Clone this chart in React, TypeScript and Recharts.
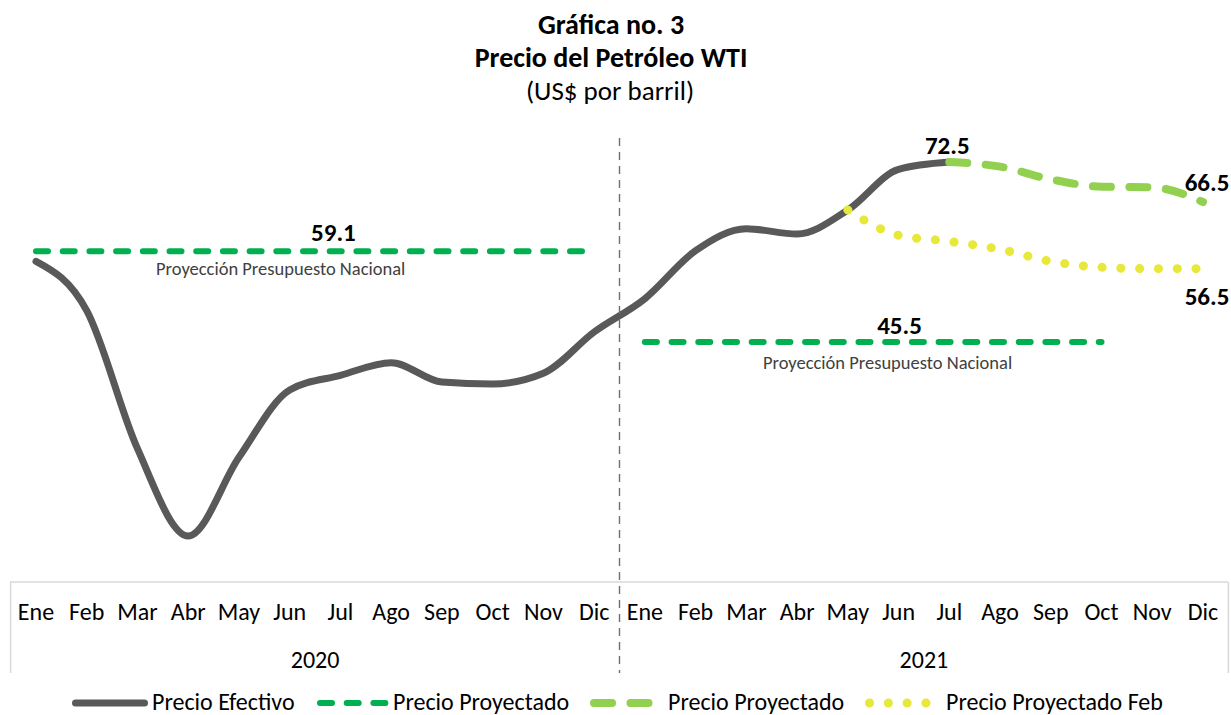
import React from 'react';
import { LineChart, Line, XAxis, YAxis, LabelList, Legend } from 'recharts';

const months = ['Ene', 'Feb', 'Mar', 'Abr', 'May', 'Jun', 'Jul', 'Ago', 'Sep', 'Oct', 'Nov', 'Dic'];
const years = ['2020', '2021'];

// US$ por barril, Ene 2020 .. Dic 2021
const precioEfectivo = [
  57.6, 50.2, 29.5, 16.4, 28.2, 38.3, 40.5, 42.4, 39.5, 39.2, 40.8, 47.0,
  52.0, 59.2, 62.5, 61.7, 65.3, 71.4, 72.5, null, null, null, null, null,
];
const proyectado2020 = [
  59.1, 59.1, 59.1, 59.1, 59.1, 59.1, 59.1, 59.1, 59.1, 59.1, 59.1, 59.1,
  null, null, null, null, null, null, null, null, null, null, null, null,
];
const proyectado2021 = [
  null, null, null, null, null, null, null, null, null, null, null, null,
  45.5, 45.5, 45.5, 45.5, 45.5, 45.5, 45.5, 45.5, 45.5, 45.5, null, null,
];
const proyectadoJul = [
  null, null, null, null, null, null, null, null, null, null, null, null,
  null, null, null, null, null, null, 72.5, 71.8, 69.9, 68.8, 68.7, 66.5,
];
const proyectadoFeb = [
  null, null, null, null, null, null, null, null, null, null, null, null,
  null, null, null, null, 65.3, 61.5, 60.6, 59.4, 57.6, 56.7, 56.5, 56.5,
];

const data = years.flatMap((year, yi) =>
  months.map((month, mi) => {
    const i = yi * 12 + mi;
    return {
      key: `${month}-${year}`,
      efectivo: precioEfectivo[i],
      proy2020: proyectado2020[i],
      proy2021: proyectado2021[i],
      proyJul: proyectadoJul[i],
      proyFeb: proyectadoFeb[i],
    };
  })
);

const W = 1231;
const H = 715;
const LEGEND_H = 27;
const MARGIN = { top: 112, right: 3, bottom: 0, left: 10 };
const PAD = { left: 26, right: 25 };
const STEP = (W - MARGIN.left - MARGIN.right - PAD.left - PAD.right) / (data.length - 1);
const FONT = 'Carlito, Calibri, Lato, sans-serif';
const BOX = '#D9D9D9';

function MonthTick(props: any) {
  const { x, y, payload, index } = props;
  const [month, year] = String(payload.value).split('-');
  const half = STEP / 2;
  return (
    <g>
      <text x={x} y={y + 38} textAnchor="middle" fontFamily={FONT} fontSize={24} fill="#000">
        {month}
      </text>
      {index % 12 === 5 && (
        <text x={x + half} y={y + 86} textAnchor="middle" fontFamily={FONT} fontSize={24} fill="#000">
          {year}
        </text>
      )}
      {index === 0 && <line x1={x - half} x2={x - half} y1={y} y2={y + 91} stroke={BOX} strokeWidth={1.5} />}
      {index === data.length - 1 && (
        <line x1={x + half} x2={x + half} y1={y} y2={y + 91} stroke={BOX} strokeWidth={1.5} />
      )}
      {index === 11 && (
        <line
          x1={x + half}
          x2={x + half}
          y1={y - 444}
          y2={y + 91}
          stroke="#6E6E6E"
          strokeWidth={1.4}
          strokeDasharray="8 6"
        />
      )}
    </g>
  );
}

function valueText(x: number, y: number, value: number) {
  return (
    <text x={x} y={y} textAnchor="middle" fontFamily={FONT} fontWeight={700} fontSize={25} fill="#000">
      {value.toFixed(1)}
    </text>
  );
}

function noteText(x: number, y: number) {
  return (
    <text x={x} y={y} textAnchor="middle" fontFamily={FONT} fontSize={18.5} fill="#404040">
      Proyección Presupuesto Nacional
    </text>
  );
}

const efectivoLabel = (p: any) => (p.index === 18 ? valueText(p.x - 2, p.y - 8, p.value) : null);
const proy2020Label = (p: any) => {
  if (p.index === 6) return valueText(p.x - 7, p.y - 10, p.value);
  if (p.index === 5) return noteText(p.x - 9, p.y + 24);
  return null;
};
const proy2021Label = (p: any) =>
  p.index === 17 ? (
    <g>
      {valueText(p.x + 1, p.y - 8, p.value)}
      {noteText(p.x - 11, p.y + 27)}
    </g>
  ) : null;
const proyJulLabel = (p: any) => (p.index === 23 ? valueText(p.x + 4, p.y - 11, p.value) : null);
const proyFebLabel = (p: any) => (p.index === 23 ? valueText(p.x + 4, p.y + 36, p.value) : null);

// icon span and text start for each legend entry
const legendSlots = [
  { x1: 72, x2: 148, tx: 152 },
  { x1: 317, x2: 390, tx: 393 },
  { x1: 590, x2: 653, tx: 668 },
  { x1: 865, x2: 932, tx: 946 },
];

function LegendContent({ payload }: any) {
  const items = (payload || []).filter((p: any) => p.type !== 'none');
  return (
    <svg width={W} height={LEGEND_H} style={{ overflow: 'visible', display: 'block' }}>
      {items.map((item: any, i: number) => {
        const slot = legendSlots[i];
        if (!slot) return null;
        const sw = item.payload?.strokeWidth ?? 6;
        const cap = sw / 2;
        return (
          <g key={item.value + i}>
            <line
              x1={slot.x1 + cap}
              x2={slot.x2 - cap}
              y1={15}
              y2={15}
              stroke={item.color}
              strokeWidth={sw}
              strokeLinecap="round"
              strokeDasharray={item.payload?.strokeDasharray}
            />
            <text x={slot.tx} y={21.5} fontFamily={FONT} fontSize={24} fill="#000">
              {item.value}
            </text>
          </g>
        );
      })}
    </svg>
  );
}

export default function App() {
  return (
    <div style={{ position: 'absolute', left: 0, top: 0, width: W, height: H, background: '#fff' }}>
      <LineChart width={W} height={H} data={data} margin={MARGIN}>
        <XAxis
          dataKey="key"
          scale="point"
          padding={PAD}
          interval={0}
          height={H - LEGEND_H - 582}
          tickLine={false}
          tickSize={0}
          tickMargin={0}
          axisLine={{ stroke: BOX, strokeWidth: 1.5 }}
          tick={<MonthTick />}
        />
        <YAxis hide type="number" scale="linear" domain={[9.5, 80]} allowDataOverflow />
        <Legend
          verticalAlign="bottom"
          height={LEGEND_H}
          wrapperStyle={{ left: 0, bottom: 0, width: W, height: LEGEND_H }}
          content={<LegendContent />}
        />
        <Line
          dataKey="efectivo"
          name="Precio Efectivo"
          type="monotone"
          stroke="#595959"
          strokeWidth={7}
          strokeLinecap="round"
          dot={false}
          activeDot={false}
          isAnimationActive={false}
        >
          <LabelList dataKey="efectivo" content={efectivoLabel} />
        </Line>
        <Line
          dataKey="proy2020"
          name="Precio Proyectado"
          type="linear"
          stroke="#00B050"
          strokeWidth={6}
          strokeLinecap="round"
          strokeDasharray="12 14.7"
          dot={false}
          activeDot={false}
          isAnimationActive={false}
        >
          <LabelList dataKey="proy2020" content={proy2020Label} />
        </Line>
        <Line
          dataKey="proy2021"
          name="Precio Proyectado"
          legendType="none"
          type="linear"
          stroke="#00B050"
          strokeWidth={6}
          strokeLinecap="round"
          strokeDasharray="12 14.7"
          dot={false}
          activeDot={false}
          isAnimationActive={false}
        >
          <LabelList dataKey="proy2021" content={proy2021Label} />
        </Line>
        <Line
          dataKey="proyJul"
          name="Precio Proyectado"
          type="monotone"
          stroke="#92D050"
          strokeWidth={8}
          strokeLinecap="round"
          strokeDasharray="18 18.5"
          dot={false}
          activeDot={false}
          isAnimationActive={false}
        >
          <LabelList dataKey="proyJul" content={proyJulLabel} />
        </Line>
        <Line
          dataKey="proyFeb"
          name="Precio Proyectado Feb"
          type="monotone"
          stroke="#E8E83A"
          strokeWidth={9}
          strokeLinecap="round"
          strokeDasharray="0.1 18.7"
          dot={false}
          activeDot={false}
          isAnimationActive={false}
        >
          <LabelList dataKey="proyFeb" content={proyFebLabel} />
        </Line>
      </LineChart>
      <svg
        width={W}
        height={110}
        style={{ position: 'absolute', left: 0, top: 0, pointerEvents: 'none' }}
      >
        <text x={611} y={34} textAnchor="middle" fontFamily={FONT} fontWeight={700} fontSize={28} fill="#000">
          Gráfica no. 3
        </text>
        <text x={611} y={67} textAnchor="middle" fontFamily={FONT} fontWeight={700} fontSize={28} fill="#000">
          Precio del Petróleo WTI
        </text>
        <text x={610} y={100} textAnchor="middle" fontFamily={FONT} fontSize={27} fill="#000">
          (US$ por barril)
        </text>
      </svg>
    </div>
  );
}
